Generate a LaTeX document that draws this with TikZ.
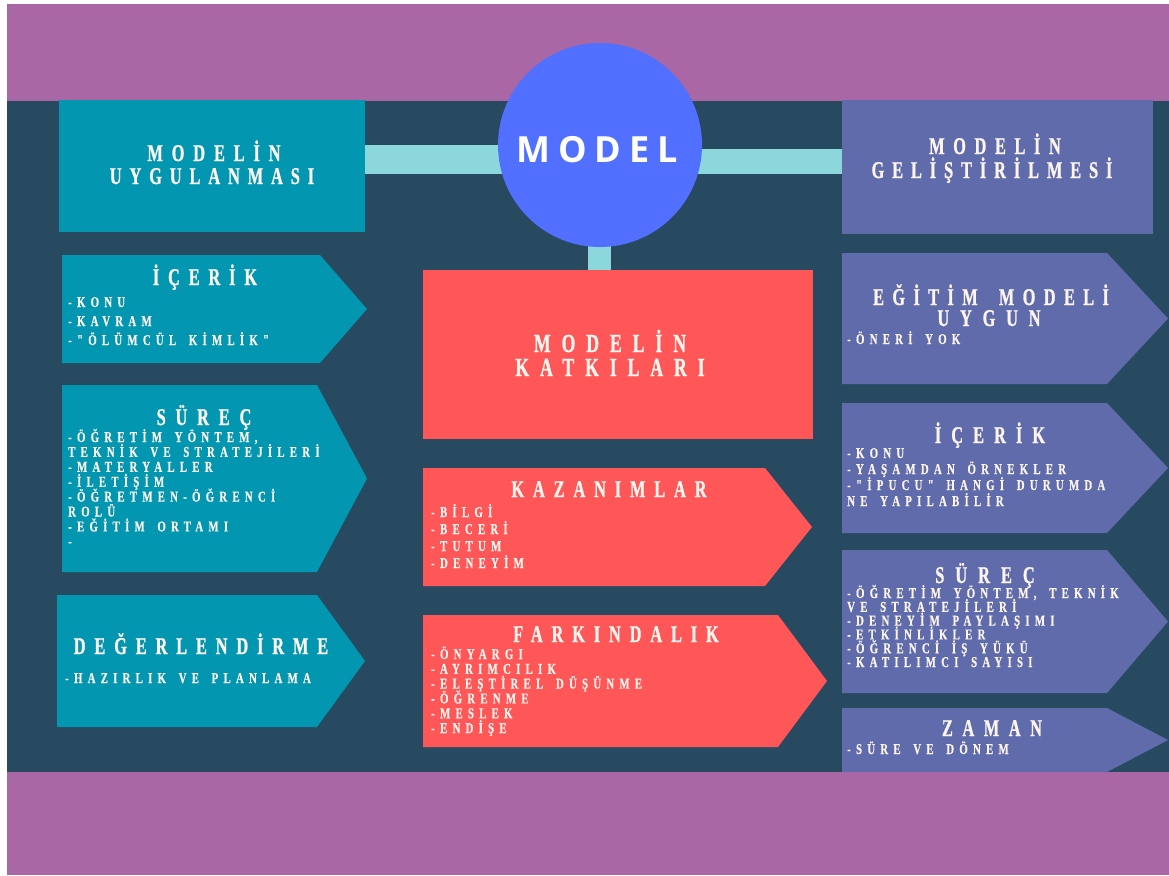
\documentclass[tikz,border=0pt]{standalone}
\usepackage{fontspec}
\newfontfamily\titlefont[FakeStretch=0.68,FakeBold=1,WordSpace=1.7]{Liberation Serif}
\newfontfamily\listfont[FakeStretch=0.72,FakeBold=0.6,LetterSpace=35,WordSpace=1.6]{Liberation Serif}
\newfontfamily\modelfont[LetterSpace=22]{Open Sans}

\definecolor{purp}{RGB}{169,103,165}
\definecolor{navy}{RGB}{40,74,97}
\definecolor{teal}{RGB}{3,150,177}
\definecolor{barc}{RGB}{139,215,220}
\definecolor{disc}{RGB}{81,112,255}
\definecolor{coral}{RGB}{255,87,87}
\definecolor{slate}{RGB}{95,107,171}
\definecolor{ink}{RGB}{251,245,238}

% paper-tag shape: rectangle with a pointed right end
\newcommand\tagshape[6]{%
  \fill[#1] (#2,#3) -- (#4,#3) -- (#5,{(#3+#6)/2}) -- (#4,#6) -- (#2,#6) -- cycle;}

% one list line per entry, stacked by a fixed step
\newcommand\itemlines[5]{%
  \foreach \t [count=\i] in {#5}
    \node[item] (#1-\i) at (#2,{#3+(\i-1)*#4}) {\t};}

\begin{document}
\begin{tikzpicture}[x=1pt,y=-1pt,
  ttl/.style={text=ink, inner sep=0pt, anchor=base, text height=16pt, text depth=0pt,
    font=\titlefont\bfseries\fontsize{24}{24}\selectfont\addfontfeatures{LetterSpace=#1}},
  ttl/.default=37,
  bigttl/.style={text=ink, inner sep=0pt, anchor=base, text height=17pt, text depth=0pt,
    font=\titlefont\bfseries\fontsize{26}{26}\selectfont\addfontfeatures{LetterSpace=#1}},
  bigttl/.default=42,
  item/.style={text=ink, inner sep=0pt, anchor=base west, text height=10pt, text depth=0pt,
    font=\listfont\bfseries\fontsize{15}{15}\selectfont},
  panel/.style={inner sep=0pt, anchor=north west},
]
\useasboundingbox (0,0) rectangle (1169,875);
\fill[white] (0,0) rectangle (1169,875);
\fill[purp] (7,4) rectangle (1169,875);
\fill[navy] (7,101) rectangle (1169,772);

% header panels
\node[panel, fill=teal, minimum width=306pt, minimum height=132pt] (lbox) at (59,100) {};
\node[panel, fill=slate, minimum width=311pt, minimum height=134pt] (rbox) at (842,100) {};
\node[panel, fill=coral, minimum width=390pt, minimum height=169pt] (cbox) at (423,270) {};

% connector bars to the central disc
\coordinate (mc) at (600,145);
\fill[barc] (lbox.east |- 0,145) rectangle (mc |- 0,174);
\fill[barc] (mc |- 0,149) rectangle (rbox.west |- 0,174);
\fill[barc] ([xshift=-12pt]mc) rectangle ([xshift=11pt]mc |- cbox.north);
\node[circle, fill=disc, minimum size=204pt, inner sep=0pt] (model) at (mc) {};
\node[text=white, inner sep=0pt, anchor=base,
  font=\modelfont\bfseries\fontsize{36}{36}\selectfont] (modeltxt) at (597,162) {MODEL};

% left column
\tagshape{teal}{62}{255}{320}{367}{363}
\tagshape{teal}{62}{385}{317}{367}{572}
\tagshape{teal}{57}{595}{317}{365}{727}
% middle column
\tagshape{coral}{423}{468}{765}{812}{586}
\tagshape{coral}{423}{615}{778}{827}{747}
% right column
\tagshape{slate}{842}{253}{1107}{1168}{384}
\tagshape{slate}{842}{403}{1107}{1168}{533}
\tagshape{slate}{842}{550}{1107}{1168}{693}
\tagshape{slate}{842}{708}{1107}{1168}{772}

% headings
\node[ttl=37] (t-luyg1) at (214,161) {MODELİN};
\node[ttl=33] (t-luyg2) at (212,184) {UYGULANMASI};
\node[ttl=37] (t-licerik) at (205,285) {İÇERİK};
\node[ttl=41] (t-lsurec) at (204,425) {SÜREÇ};
\node[ttl=37] (t-ldeger) at (201,654) {DEĞERLENDİRME};
\node[bigttl] (t-katki1) at (610,352) {MODELİN};
\node[bigttl] (t-katki2) at (610,376) {KATKILARI};
\node[ttl=37] (t-kazan) at (609,497) {KAZANIMLAR};
\node[ttl=37] (t-fark) at (616,642) {FARKINDALIK};
\node[ttl=36] (t-gelis1) at (995,154) {MODELİN};
\node[ttl=33] (t-gelis2) at (992,178) {GELİŞTİRİLMESİ};
\node[ttl=35] (t-egit1) at (991,305) {EĞİTİM MODELİ};
\node[ttl=45] (t-egit2) at (989,326) {UYGUN};
\node[ttl=42] (t-ricerik) at (990,443) {İÇERİK};
\node[ttl=46] (t-rsurec) at (985,583) {SÜREÇ};
\node[ttl=40] (t-zaman) at (992,736) {ZAMAN};

% list entries
\itemlines{licerik}{68}{307}{19}{-KONU, -KAVRAM, -"ÖLÜMCÜL KİMLİK"}
\itemlines{lsurec}{68}{442}{14.9}{{-ÖĞRETİM YÖNTEM,}, TEKNİK VE STRATEJİLERİ, -MATERYALLER, -İLETİŞİM, -ÖĞRETMEN-ÖĞRENCİ, ROLÜ, -EĞİTİM ORTAMI, -}
\itemlines{ldeger}{65}{683}{15}{-HAZIRLIK VE PLANLAMA}
\itemlines{kazan}{431}{517}{17}{-BİLGİ, -BECERİ, -TUTUM, -DENEYİM}
\itemlines{fark}{431}{659}{14.8}{-ÖNYARGI, -AYRIMCILIK, -ELEŞTİREL DÜŞÜNME, -ÖĞRENME, -MESLEK, -ENDİŞE}
\itemlines{egit}{847}{344}{15}{-ÖNERİ YOK}
\itemlines{ricerik}{847}{458}{16}{-KONU, -YAŞAMDAN ÖRNEKLER, -"İPUCU" HANGİ DURUMDA, NE YAPILABİLİR}
\itemlines{rsurec}{847}{598}{13.8}{{-ÖĞRETİM YÖNTEM, TEKNİK}, VE STRATEJİLERİ, -DENEYİM PAYLAŞIMI, -ETKİNLİKLER, -ÖĞRENCİ İŞ YÜKÜ, -KATILIMCI SAYISI}
\itemlines{zaman}{847}{754}{15}{-SÜRE VE DÖNEM}
\end{tikzpicture}
\end{document}
